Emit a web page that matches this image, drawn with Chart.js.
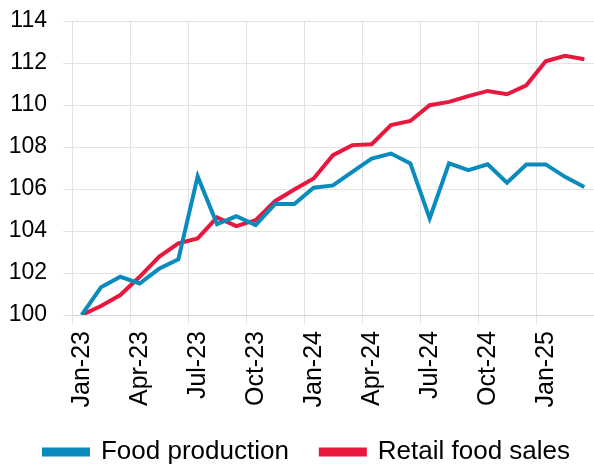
<!DOCTYPE html>
<html>
<head>
<meta charset="utf-8">
<script src="https://cdn.jsdelivr.net/npm/chart.js@4.4.0/dist/chart.umd.min.js"></script>
<style>
  html, body { margin: 0; padding: 0; background: #fff; }
  #wrap { width: 594px; height: 466px; }
</style>
</head>
<body>
<div id="wrap"><canvas id="chart"></canvas></div>
<script>
const months = ['Jan-23','Feb-23','Mar-23','Apr-23','May-23','Jun-23','Jul-23','Aug-23','Sep-23','Oct-23','Nov-23','Dec-23',
    'Jan-24','Feb-24','Mar-24','Apr-24','May-24','Jun-24','Jul-24','Aug-24','Sep-24','Oct-24','Nov-24','Dec-24',
    'Jan-25','Feb-25','Mar-25'];
const foodProduction = [100, 101.32, 101.82, 101.5, 102.2, 102.65, 106.6, 104.33, 104.7, 104.28, 105.28, 105.28,
    106.06, 106.17, 106.82, 107.45, 107.69, 107.22, 104.6, 107.22, 106.9, 107.18, 106.3, 107.17,
    107.17, 106.58, 106.1];
const retailFoodSales = [100, 100.43, 100.95, 101.82, 102.77, 103.41, 103.65, 104.65, 104.23, 104.52, 105.42, 105.98,
    106.5, 107.61, 108.09, 108.13, 109.04, 109.24, 109.99, 110.15, 110.42, 110.67, 110.51, 110.94,
    112.08, 112.34, 112.18];
const yTicks = [100, 102, 104, 106, 108, 110, 112, 114];

const blue = '#0a8bbd';
const red = '#e8173d';
const gridColor = '#e3e3e3';

Chart.defaults.font.family = '"Liberation Sans", Arial, sans-serif';
Chart.defaults.color = '#000';

// nudge the legend a bit to the right, like the original
const legendShift = {
    id: 'legendShift',
    afterLayout(chart) {
        chart.legend.left += 10;
        chart.legend.right += 10;
    }
};

new Chart(document.getElementById('chart').getContext('2d'), {
    type: 'line',
    data: {
        labels: months,
        datasets: [
            {
                label: 'Food production',
                data: foodProduction,
                borderColor: blue,
                backgroundColor: blue,
                borderWidth: 4,
                pointRadius: 0,
                tension: 0
            },
            {
                label: 'Retail food sales',
                data: retailFoodSales,
                borderColor: red,
                backgroundColor: red,
                borderWidth: 4,
                pointRadius: 0,
                tension: 0
            }
        ]
    },
    options: {
        responsive: true,
        maintainAspectRatio: false,
        animation: false,
        layout: { padding: { top: 21, right: 0, left: 0, bottom: -9 } },
        plugins: {
            tooltip: { enabled: false },
            legend: {
                position: 'bottom',
                labels: {
                    font: { size: 26 },
                    boxWidth: 44,
                    boxHeight: 5,
                    padding: 32
                }
            }
        },
        scales: {
            x: {
                offset: true,
                grid: {
                    offset: true,
                    color: ctx => (ctx.index % 3 === 0 ? gridColor : 'transparent'),
                    tickLength: 9
                },
                border: { color: '#d4d4d4' },
                ticks: {
                    autoSkip: false,
                    minRotation: 90,
                    maxRotation: 90,
                    font: { size: 25 },
                    padding: 7,
                    callback: (v, i) => (i % 3 === 0 ? months[i] : '')
                },
                afterFit: s => { s.height = 92; s.paddingRight = 0; s.paddingLeft = 0; s.paddingTop = 0; }
            },
            y: {
                min: 100,
                max: 114,
                afterBuildTicks: s => { s.ticks = yTicks.map(v => ({ value: v })); },
                grid: { color: gridColor, tickLength: 9 },
                border: { color: gridColor },
                ticks: { font: { size: 23 }, padding: 16, autoSkip: false },
                afterFit: s => { s.width = 72; s.paddingTop = 0; s.paddingBottom = 0; }
            }
        }
    },
    plugins: [legendShift]
});
</script>
</body>
</html>
